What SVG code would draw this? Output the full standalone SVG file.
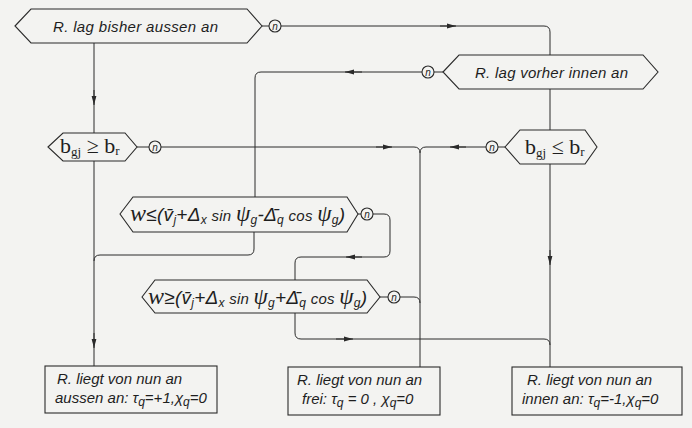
<svg xmlns="http://www.w3.org/2000/svg" width="692" height="428" viewBox="0 0 692 428">
<style>
.bg{fill:#f3f3f1}
.sh{fill:none;stroke:#2a2a2a;stroke-width:1.1}
.cn{fill:none;stroke:#2a2a2a;stroke-width:1}
.t{font-family:"Liberation Sans",Arial,sans-serif;font-style:italic;font-size:15px;fill:#1e1e1e}
.n{font-family:"Liberation Sans",Arial,sans-serif;font-style:italic;font-size:10px;fill:#1e1e1e;text-anchor:middle}
.f{font-family:"Liberation Sans",Arial,sans-serif;font-style:italic;font-size:19px;fill:#1e1e1e}
.b{font-family:"Liberation Serif","Times New Roman",serif;font-size:22px;fill:#1e1e1e}
.s{font-size:12px}
.m{font-size:15px}
.w{font-family:"Liberation Serif",serif;font-size:24px}
.p{font-family:"Liberation Serif",serif;font-size:23px}
.bs{font-size:13px}
</style>
<defs>
<marker id="a" markerWidth="9" markerHeight="6" refX="9" refY="3" orient="auto" markerUnits="userSpaceOnUse"><path d="M0,0.6 L9,3 L0,5.4 z" fill="#2a2a2a"/></marker>
</defs>
<rect class="bg" x="0" y="0" width="692" height="428"/>
<g id="connectors" class="cn">
<path d="M262,26 H269"/>
<path d="M281,26 H544 Q550,26 550,32 V55"/>
<path d="M440,26 H456" marker-end="url(#a)"/>
<path d="M94,43 V133"/>
<path d="M94,90 V105" marker-end="url(#a)"/>
<path d="M443,72 H434"/>
<path d="M422,72 H261 Q255,72 255,78 V197"/>
<path d="M362,72 H345" marker-end="url(#a)"/>
<path d="M550,89 V130"/>
<path d="M137,147 H149"/>
<path d="M161,147 H414 Q420,147 420,153 V367"/>
<path d="M376,147 H392" marker-end="url(#a)"/>
<path d="M505,147 H498"/>
<path d="M486,147 H426 Q420,147 420,153"/>
<path d="M466,147 H450" marker-end="url(#a)"/>
<path d="M94,161 V366"/>
<path d="M94,333 V348" marker-end="url(#a)"/>
<path d="M550,164 V367"/>
<path d="M550,250 V265" marker-end="url(#a)"/>
<path d="M254,232 V249 Q254,255 248,255 H100 Q94,255 94,261"/>
<path d="M358,214 H361"/>
<path d="M373,214 H384 Q390,214 390,220 V251 Q390,257 384,257 H301 Q295,257 295,263 V280"/>
<path d="M362,257 H346" marker-end="url(#a)"/>
<path d="M380,297 H388"/>
<path d="M400,297 H414 Q420,297 420,303"/>
<path d="M295,313 V333 Q295,339 301,339 H544 Q550,339 550,345"/>
<path d="M336,339 H353" marker-end="url(#a)"/>
</g>
<g id="n1">
<polygon class="sh" points="15,26 31,9 247,9 262,26 247,43 31,43"/>
<text class="t" x="53" y="32" textLength="165" lengthAdjust="spacing">R. lag bisher aussen an</text>
<circle class="sh" cx="275" cy="26" r="6"/>
<text class="n" x="275" y="29.5">n</text>
</g>
<g id="n2">
<polygon class="sh" points="443,72 459,55 643,55 658,72 643,89 459,89"/>
<text class="t" x="475" y="78" textLength="153" lengthAdjust="spacing">R. lag vorher innen an</text>
<circle class="sh" cx="428" cy="72" r="6"/>
<text class="n" x="428" y="75.5">n</text>
</g>
<g id="n3">
<polygon class="sh" points="48,147 63,133 125,133 137,147 125,161 63,161"/>
<text class="b" x="60" y="153">b<tspan class="bs" dy="3">gj</tspan><tspan dy="-3"> ≥ b</tspan><tspan class="bs" dy="2">r</tspan></text>
<circle class="sh" cx="155" cy="147" r="6"/>
<text class="n" x="155" y="150.5">n</text>
</g>
<g id="n4">
<polygon class="sh" points="505,147 520,130 585,130 597,147 585,164 520,164"/>
<text class="b" x="525" y="154">b<tspan class="bs" dy="3">gj</tspan><tspan dy="-3"> ≤ b</tspan><tspan class="bs" dy="2">r</tspan></text>
<circle class="sh" cx="492" cy="147" r="6"/>
<text class="n" x="492" y="150.5">n</text>
</g>
<g id="n5">
<polygon class="sh" points="120,214 133,197 347,197 358,214 347,232 133,232"/>
<text class="f" x="130" y="221" textLength="215" lengthAdjust="spacing"><tspan class="w">w</tspan>≤(v̄<tspan class="s" dy="3">j</tspan><tspan dy="-3">+Δ</tspan><tspan class="s" dy="3">x</tspan><tspan class="m" dy="-3"> sin </tspan><tspan class="p">ψ</tspan><tspan class="s" dy="3">g</tspan><tspan dy="-3">-Δ̄</tspan><tspan class="s" dy="3">q</tspan><tspan class="m" dy="-3"> cos </tspan><tspan class="p">ψ</tspan><tspan class="s" dy="3">g</tspan><tspan dy="-3">)</tspan></text>
<circle class="sh" cx="367" cy="214" r="6"/>
<text class="n" x="367" y="217.5">n</text>
</g>
<g id="n6">
<polygon class="sh" points="142,297 155,280 367,280 380,297 367,313 155,313"/>
<text class="f" x="148" y="304" textLength="219" lengthAdjust="spacing"><tspan class="w">w</tspan>≥(v̄<tspan class="s" dy="3">j</tspan><tspan dy="-3">+Δ</tspan><tspan class="s" dy="3">x</tspan><tspan class="m" dy="-3"> sin </tspan><tspan class="p">ψ</tspan><tspan class="s" dy="3">g</tspan><tspan dy="-3">+Δ̄</tspan><tspan class="s" dy="3">q</tspan><tspan class="m" dy="-3"> cos </tspan><tspan class="p">ψ</tspan><tspan class="s" dy="3">g</tspan><tspan dy="-3">)</tspan></text>
<circle class="sh" cx="394" cy="297" r="6"/>
<text class="n" x="394" y="300.5">n</text>
</g>
<g id="n7">
<rect class="sh" x="45" y="366" width="172" height="47"/>
<text class="t" x="57" y="384">R. liegt von nun an</text>
<text class="t" x="55" y="403">aussen an: τ<tspan class="s" dy="3">q</tspan><tspan dy="-3">=+1,χ</tspan><tspan class="s" dy="3">q</tspan><tspan dy="-3">=0</tspan></text>
</g>
<g id="n8">
<rect class="sh" x="288" y="367" width="152" height="48"/>
<text class="t" x="297" y="385">R. liegt von nun an</text>
<text class="t" x="302" y="404">frei: τ<tspan class="s" dy="3">q</tspan><tspan dy="-3"> = 0 , χ</tspan><tspan class="s" dy="3">q</tspan><tspan dy="-3">=0</tspan></text>
</g>
<g id="n9">
<rect class="sh" x="512" y="367" width="170" height="48"/>
<text class="t" x="527" y="385">R. liegt von nun an</text>
<text class="t" x="522" y="404">innen an: τ<tspan class="s" dy="3">q</tspan><tspan dy="-3">=-1,χ</tspan><tspan class="s" dy="3">q</tspan><tspan dy="-3">=0</tspan></text>
</g>
</svg>
